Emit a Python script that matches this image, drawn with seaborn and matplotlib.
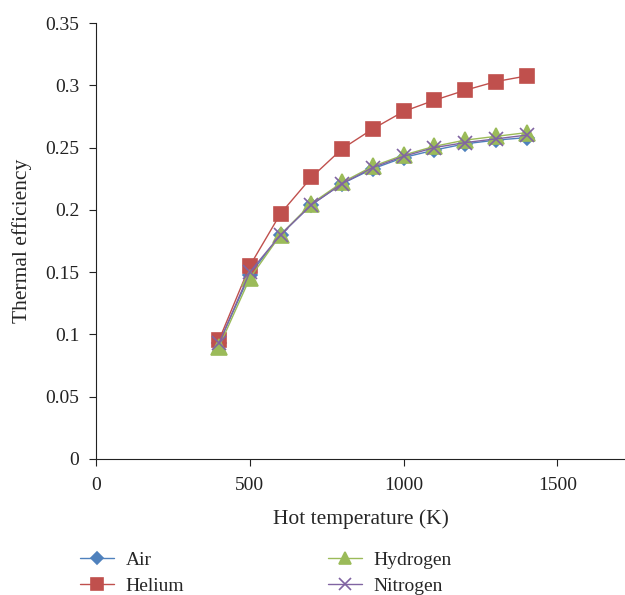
import pandas as pd
import seaborn as sns
import matplotlib.pyplot as plt

# Data
temps = [400, 500, 600, 700, 800, 900, 1000, 1100, 1200, 1300, 1400]
air = [0.093, 0.148, 0.180, 0.204, 0.221, 0.233, 0.242, 0.248, 0.253, 0.256, 0.258]
helium = [0.0955, 0.155, 0.197, 0.226, 0.249, 0.265, 0.279, 0.288, 0.296, 0.303, 0.3075]
hydrogen = [0.090, 0.145, 0.180, 0.205, 0.222, 0.235, 0.244, 0.251, 0.256, 0.259, 0.262]
nitrogen = [0.093, 0.150, 0.180, 0.204, 0.221, 0.234, 0.243, 0.250, 0.254, 0.257, 0.260]

gases = ['Air', 'Helium', 'Hydrogen', 'Nitrogen']
colors = {'Air': '#4F81BD', 'Helium': '#C0504D', 'Hydrogen': '#9BBB59', 'Nitrogen': '#8064A2'}
markers = {'Air': 'D', 'Helium': 's', 'Hydrogen': '^', 'Nitrogen': 'x'}
msizes = {'Air': 7, 'Helium': 9.5, 'Hydrogen': 11, 'Nitrogen': 10}

df = pd.DataFrame({'T': temps * 4,
                   'eff': air + helium + hydrogen + nitrogen,
                   'gas': [g for g in gases for _ in temps]})

sns.set_style('white')
plt.rcParams['font.family'] = ['Liberation Serif', 'DejaVu Serif']

fig = plt.figure(figsize=(6.25, 5.95), dpi=100)
ax = fig.add_axes([0.1536, 0.2286, 0.8464, 0.7327])

for g in gases:
    sub = df[df['gas'] == g]
    sns.lineplot(data=sub, x='T', y='eff', ax=ax, color=colors[g], marker=markers[g],
                 markersize=msizes[g], markeredgecolor=colors[g],
                 markeredgewidth=1.2, linewidth=1.0, label=g, legend=False)

ax.set_xlim(0, 1720)
ax.set_ylim(0, 0.35)
ax.set_xticks([0, 500, 1000, 1500])
ax.set_yticks([0, 0.05, 0.1, 0.15, 0.2, 0.25, 0.3, 0.35])
ax.set_yticklabels(['0', '0.05', '0.1', '0.15', '0.2', '0.25', '0.3', '0.35'])
ax.set_xlabel('Hot temperature (K)', fontsize=15.5)
ax.set_ylabel('Thermal efficiency', fontsize=15.5)
ax.xaxis.set_label_coords(0.5, -0.115)
ax.yaxis.set_label_coords(-0.121, 0.5)
ax.tick_params(axis='both', labelsize=14, direction='out', length=5, width=0.8,
               colors='#222222', left=True, bottom=True)
ax.tick_params(axis='y', pad=7)
ax.tick_params(axis='x', pad=8)
for s in ['top', 'right']:
    ax.spines[s].set_visible(False)
for s in ['left', 'bottom']:
    ax.spines[s].set_color('#222222')
    ax.spines[s].set_linewidth(0.8)

handles, labels = ax.get_legend_handles_labels()
leg_kw = dict(loc='upper left', frameon=False, fontsize=14, handlelength=1.75,
              handletextpad=0.6, labelspacing=0.45, borderpad=0, borderaxespad=0,
              markerscale=0.85)
leg1 = fig.legend(handles[:2], labels[:2], bbox_to_anchor=(0.128, 0.074), **leg_kw)
leg2 = fig.legend(handles[2:], labels[2:], bbox_to_anchor=(0.525, 0.074), **leg_kw)

fig.savefig('out.png', dpi=100)
